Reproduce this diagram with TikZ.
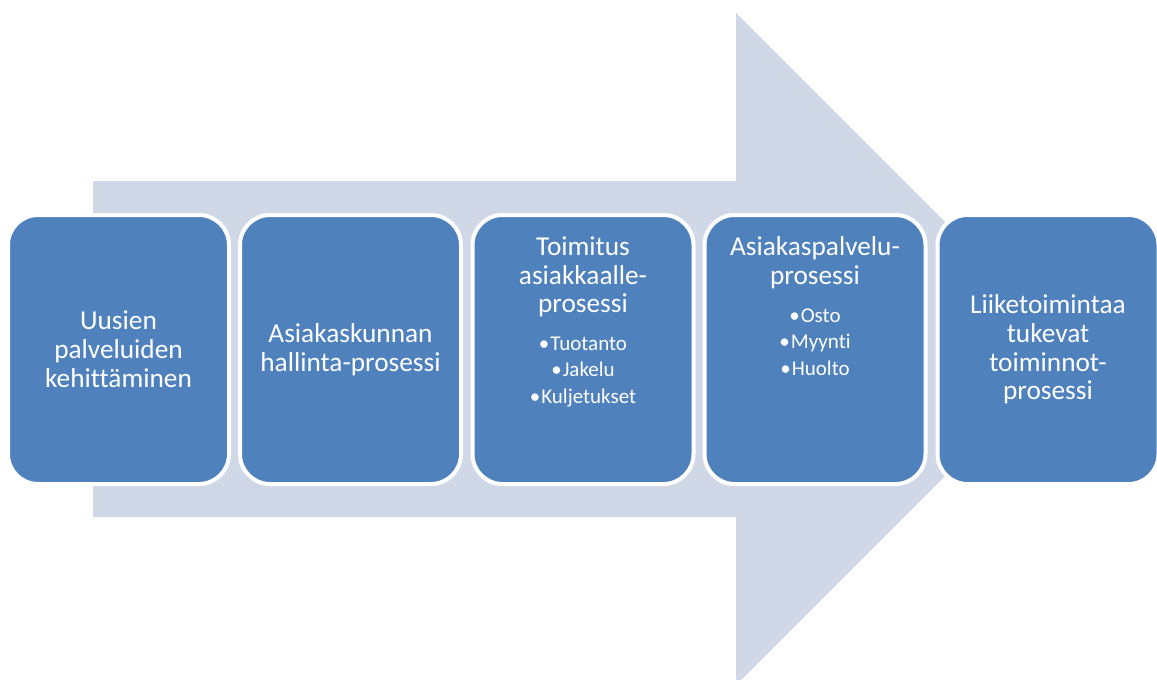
\documentclass[tikz,border=0pt]{standalone}
\usepackage{fontspec}
\setmainfont[Ligatures=CommonOff]{Carlito}
\definecolor{boxblue}{HTML}{4F81BD}
\definecolor{arrowfill}{HTML}{D0D8E8}
\begin{document}
\begin{tikzpicture}[x=1pt,y=-1pt,
  proc/.style={draw=white, line width=4pt, fill=boxblue, rounded corners=30pt,
    minimum width=221pt, minimum height=269pt, text=white, align=center,
    font=\fontsize{27.3}{28.8}\selectfont, inner sep=0pt},
  ttl/.style={text=white, align=center, font=\fontsize{27.3}{28.8}\selectfont, inner sep=0pt},
  bul/.style={text=white, align=center, font=\fontsize{21}{26.5}\selectfont, inner sep=0pt}]
\useasboundingbox (0,0) rectangle (1157,680);
\clip (0,0) rectangle (1157,680);
\fill[arrowfill] (93,181) -- (736,181) -- (736,13) -- (1072,349) -- (736,685) -- (736,517) -- (93,517) -- cycle;
\node[proc] (b1) at (118.5,349.5) {Uusien\\palveluiden\\kehittäminen};
\node[proc] (b2) at (350.5,349.5) {Asiakaskunnan\\hallinta-prosessi};
\node[proc] (b3) at (583,349.5) {};
\node[proc] (b4) at (815,349.5) {};
\node[proc] (b5) at (1048,349.5) {Liiketoimintaa\\tukevat\\toiminnot-\\prosessi};
\node[ttl] (t3) at (583,277) {Toimitus\\asiakkaalle-\\prosessi};
\node[bul] (l3) at (583,372) {\textbullet\hspace{1pt}Tuotanto\\\textbullet\hspace{1pt}Jakelu\\\textbullet\hspace{1pt}Kuljetukset};
\node[ttl] (t4) at (815,262.5) {Asiakaspalvelu-\\prosessi};
\node[bul] (l4) at (815,342) {\textbullet\hspace{1pt}Osto\\\textbullet\hspace{1pt}Myynti\\\textbullet\hspace{1pt}Huolto};
\end{tikzpicture}
\end{document}
